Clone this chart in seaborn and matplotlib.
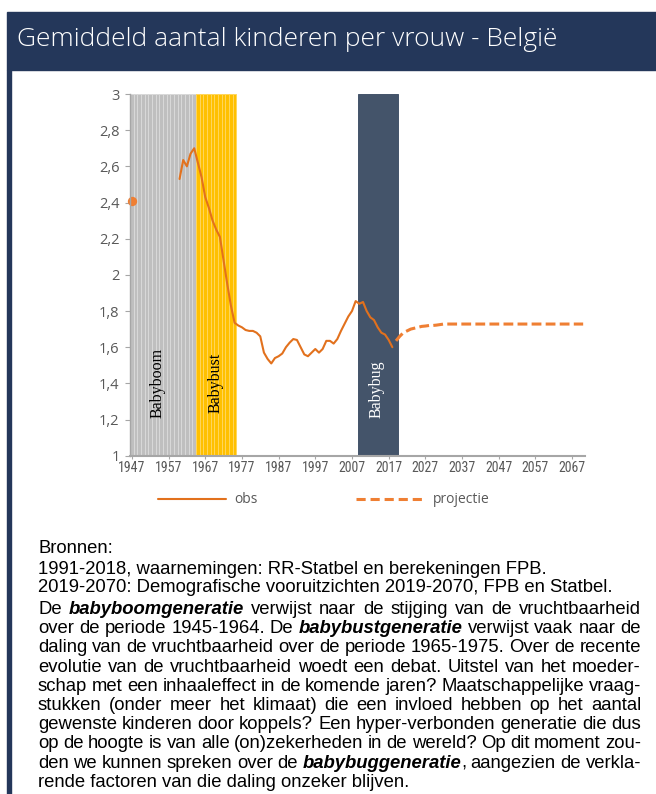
import matplotlib
matplotlib.use("Agg")
import matplotlib.pyplot as plt
import matplotlib.font_manager as fm
from matplotlib.lines import Line2D
from matplotlib.patches import Rectangle
import seaborn as sns

W, H = 656, 794

TITLE = "Gemiddeld aantal kinderen per vrouw - België"

# band categories (one bar per year, full axis height)
BOOM_YEARS = list(range(1947, 1965))
BUST_YEARS = list(range(1965, 1976))
BUG_YEARS = list(range(2009, 2020))
BAND_TOP = 3

FIRST_YEAR = [1947]
FIRST_VALUE = [2.41]

OBS_YEARS = list(range(1960, 2019))
OBS_VALUES = [
    2.53, 2.635, 2.60, 2.67, 2.70, 2.62, 2.54, 2.43, 2.37, 2.30,
    2.25, 2.21, 2.08, 1.95, 1.83, 1.735, 1.72, 1.71, 1.695, 1.69,
    1.69, 1.68, 1.66, 1.57, 1.535, 1.51, 1.54, 1.55, 1.565, 1.60,
    1.625, 1.645, 1.64, 1.60, 1.56, 1.55, 1.57, 1.59, 1.57, 1.59,
    1.635, 1.635, 1.62, 1.645, 1.69, 1.73, 1.77, 1.80, 1.855, 1.84,
    1.85, 1.80, 1.765, 1.75, 1.71, 1.68, 1.67, 1.64, 1.60,
]

PROJ_YEARS = list(range(2019, 2071))
PROJ_VALUES = [
    1.635, 1.66, 1.68, 1.69, 1.70, 1.705, 1.71, 1.715, 1.717, 1.72,
    1.72, 1.722, 1.725, 1.728, 1.728, 1.728, 1.728, 1.728, 1.728, 1.728,
    1.728, 1.728, 1.728, 1.728, 1.728, 1.728, 1.728, 1.728, 1.728, 1.728,
    1.728, 1.728, 1.728, 1.728, 1.728, 1.728, 1.728, 1.728, 1.728, 1.728,
    1.728, 1.728, 1.728, 1.728, 1.728, 1.728, 1.728, 1.728, 1.728, 1.728,
    1.728, 1.728,
]

X_TICKS = [1947, 1957, 1967, 1977, 1987, 1997, 2007, 2017, 2027, 2037, 2047, 2057, 2067]
Y_TICKS = [1, 1.2, 1.4, 1.6, 1.8, 2, 2.2, 2.4, 2.6, 2.8, 3]
Y_LABELS = ["1", "1,2", "1,4", "1,6", "1,8", "2", "2,2", "2,4", "2,6", "2,8", "3"]

LEGEND_LABELS = ["obs", "projectie"]

SOURCES = [
    "Bronnen:",
    "1991-2018, waarnemingen: RR-Statbel en berekeningen FPB.",
    "2019-2070: Demografische vooruitzichten 2019-2070, FPB en Statbel.",
]
PARAGRAPH = [
    "De *babyboomgeneratie* verwijst naar de stijging van de vruchtbaarheid",
    "over de periode 1945-1964. De *babybustgeneratie* verwijst vaak naar de",
    "daling van de vruchtbaarheid over de periode 1965-1975. Over de recente",
    "evolutie van de vruchtbaarheid woedt een debat. Uitstel van het moeder-",
    "schap met een inhaaleffect in de komende jaren? Maatschappelijke vraag-",
    "stukken (onder meer het klimaat) die een invloed hebben op het aantal",
    "gewenste kinderen door koppels? Een hyper-verbonden generatie die dus",
    "op de hoogte is van alle (on)zekerheden in de wereld? Op dit moment zou-",
    "den we kunnen spreken over de *babybuggeneratie*, aangezien de verkla-",
    "rende factoren van die daling onzeker blijven.",
]

NAVY = "#24375A"
OBS_COLOR = "#E2711D"
PROJ_COLOR = "#EF7F33"
AXIS_GREY = "#A6A6A6"
LABEL_GREY = "#595959"

sns.set_theme(style="white")
plt.rcParams["font.family"] = ["DejaVu Sans"]

font_names = {f.name for f in fm.fontManager.ttflist}
NARROW, NARROW_SIZE = "Liberation Sans", 9.4
for cand in ["Liberation Sans Narrow", "Arial Narrow", "Roboto Condensed"]:
    if cand in font_names:
        NARROW, NARROW_SIZE = cand, 10
        break
UI_FONT = "Open Sans" if "Open Sans" in font_names else "DejaVu Sans"
TITLE_FONT = UI_FONT
for cand in ["Open Sans Light", "Lato Light"]:
    if cand in font_names:
        TITLE_FONT = cand
        break


def fx(px):
    return px / W


def fy(py):
    return 1 - py / H


fig = plt.figure(figsize=(W / 100, H / 100), dpi=100)
fig.patch.set_facecolor("white")

# title bar and left border
fig.patches.append(Rectangle((fx(7), fy(70)), 1 - fx(7), (70 - 12) / H,
                             transform=fig.transFigure, color=NAVY, zorder=0))
fig.patches.append(Rectangle((fx(7), 0), 4 / W, fy(70),
                             transform=fig.transFigure, color=NAVY, zorder=0))

ax = fig.add_axes([fx(130), fy(455.7), (585 - 130) / W, (455.7 - 94) / H])
ax.set_facecolor("none")

band_specs = [
    (BOOM_YEARS, "#BFBFBF", "#D9D9D9"),
    (BUST_YEARS, "#FFC000", "#FFD65C"),
    (BUG_YEARS, "#44546A", "#44546A"),
]
for years, face, edge in band_specs:
    sns.barplot(x=years, y=[BAND_TOP] * len(years), native_scale=True, width=1,
                color=face, saturation=1, edgecolor=edge, linewidth=0.7,
                ax=ax, zorder=1)

sns.lineplot(x=OBS_YEARS, y=OBS_VALUES, color=OBS_COLOR, linewidth=1.5,
             ax=ax, zorder=3)
sns.lineplot(x=PROJ_YEARS, y=PROJ_VALUES, color=PROJ_COLOR, linewidth=2.2,
             linestyle=(0, (3.2, 1.4)), ax=ax, zorder=3)
sns.scatterplot(x=FIRST_YEAR, y=FIRST_VALUE, color=PROJ_COLOR, s=45,
                linewidth=0, ax=ax, zorder=4, clip_on=False)

ax.set_xlim(1946.5, 2070.5)
ax.set_ylim(1, 3)
ax.set_xlabel("")
ax.set_ylabel("")
ax.grid(False)
sns.despine(ax=ax)
ax.spines["left"].set_color(AXIS_GREY)
ax.spines["left"].set_linewidth(1.0)
ax.spines["bottom"].set_color(AXIS_GREY)
ax.spines["bottom"].set_linewidth(1.5)
ax.spines["left"].set_zorder(5)
ax.spines["bottom"].set_zorder(5)

ax.set_yticks(Y_TICKS)
ax.set_yticklabels(Y_LABELS, family=UI_FONT, fontsize=10.5, color=LABEL_GREY)
ax.set_xticks(X_TICKS)
ax.set_xticklabels([str(y) for y in X_TICKS], family=NARROW,
                   fontsize=NARROW_SIZE, color=LABEL_GREY)
ax.tick_params(axis="y", length=3.5, width=0.8, color=AXIS_GREY, pad=4, left=True)
ax.tick_params(axis="x", length=2.5, width=0.8, color=AXIS_GREY, pad=1, bottom=True)

ax.text(1954.1, 1.40, "Babyboom", rotation=90, ha="center", va="center",
        family="Liberation Serif", fontsize=11.5, color="black", zorder=2)
ax.text(1969.8, 1.40, "Babybust", rotation=90, ha="center", va="center",
        family="Liberation Serif", fontsize=11.5, color="black", zorder=2)
ax.text(2013.6, 1.37, "Babybug", rotation=90, ha="center", va="center",
        family="Liberation Serif", fontsize=11.5, color="white", zorder=2)

handles = [
    Line2D([], [], color=OBS_COLOR, linewidth=1.5),
    Line2D([], [], color=PROJ_COLOR, linewidth=2.2, linestyle=(0, (3.0, 1.6))),
]
fig.legend(handles, LEGEND_LABELS, loc="center left", bbox_to_anchor=(fx(158), fy(500)),
           ncol=2, frameon=False, handlelength=4.9, handletextpad=0.6,
           columnspacing=7.1, borderpad=0, borderaxespad=0,
           prop={"family": UI_FONT, "size": 10}, labelcolor=LABEL_GREY)

renderer = fig.canvas.get_renderer()


def text_width(s, **kw):
    t = fig.text(0, 0, s, **kw)
    w = t.get_window_extent(renderer).width
    t.remove()
    return w


# title, sized to the reference width
title_kw = dict(family=TITLE_FONT, weight="light", color="white")
title_size = 20 * 540 / text_width(TITLE, size=20, **title_kw)
fig.text(fx(17), fy(45.7), TITLE, size=title_size, va="baseline", ha="left", **title_kw)

# text block
X0, X1 = 38, 641


def style(size, bold):
    kw = dict(family="Liberation Sans", size=size, color="black")
    if bold:
        kw.update(weight="bold", style="italic")
    return kw


def parse_word(word):
    return [(p, i % 2 == 1) for i, p in enumerate(word.split("*")) if p]


fs = 10 * 511 / text_width(SOURCES[1], **style(10, False))
for line in PARAGRAPH:
    words = [parse_word(w) for w in line.split()]
    natural = sum(text_width(s, **style(fs, b)) for wd in words for s, b in wd)
    space = text_width("x x", **style(fs, False)) - text_width("xx", **style(fs, False))
    need = natural + 0.7 * space * (len(words) - 1)
    if need > X1 - X0:
        fs *= (X1 - X0) / need

space_w = text_width("x x", **style(fs, False)) - text_width("xx", **style(fs, False))


def place_line(line, y, justify):
    y = round(y)
    if not justify and "*" not in line:
        fig.text(fx(X0), fy(y), line, va="baseline", ha="left", **style(fs, False))
        return
    words = [parse_word(w) for w in line.split()]
    widths = [[text_width(s, **style(fs, b)) for s, b in wd] for wd in words]
    totals = [sum(ws) for ws in widths]
    gap = space_w
    if justify and len(words) > 1:
        gap = (X1 - X0 - sum(totals)) / (len(words) - 1)
    x = X0
    for wd, ws in zip(words, widths):
        for (s, b), w in zip(wd, ws):
            fig.text(fx(x), fy(y), s, va="baseline", ha="left", **style(fs, b))
            x += w
        x += gap


for line, y in zip(SOURCES, [553, 574.5, 592.5]):
    place_line(line, y, False)

para_y = 614
line_step = 19.2
for i, line in enumerate(PARAGRAPH):
    place_line(line, para_y + i * line_step, i < len(PARAGRAPH) - 1)

fig.savefig("out.png", dpi=100)
